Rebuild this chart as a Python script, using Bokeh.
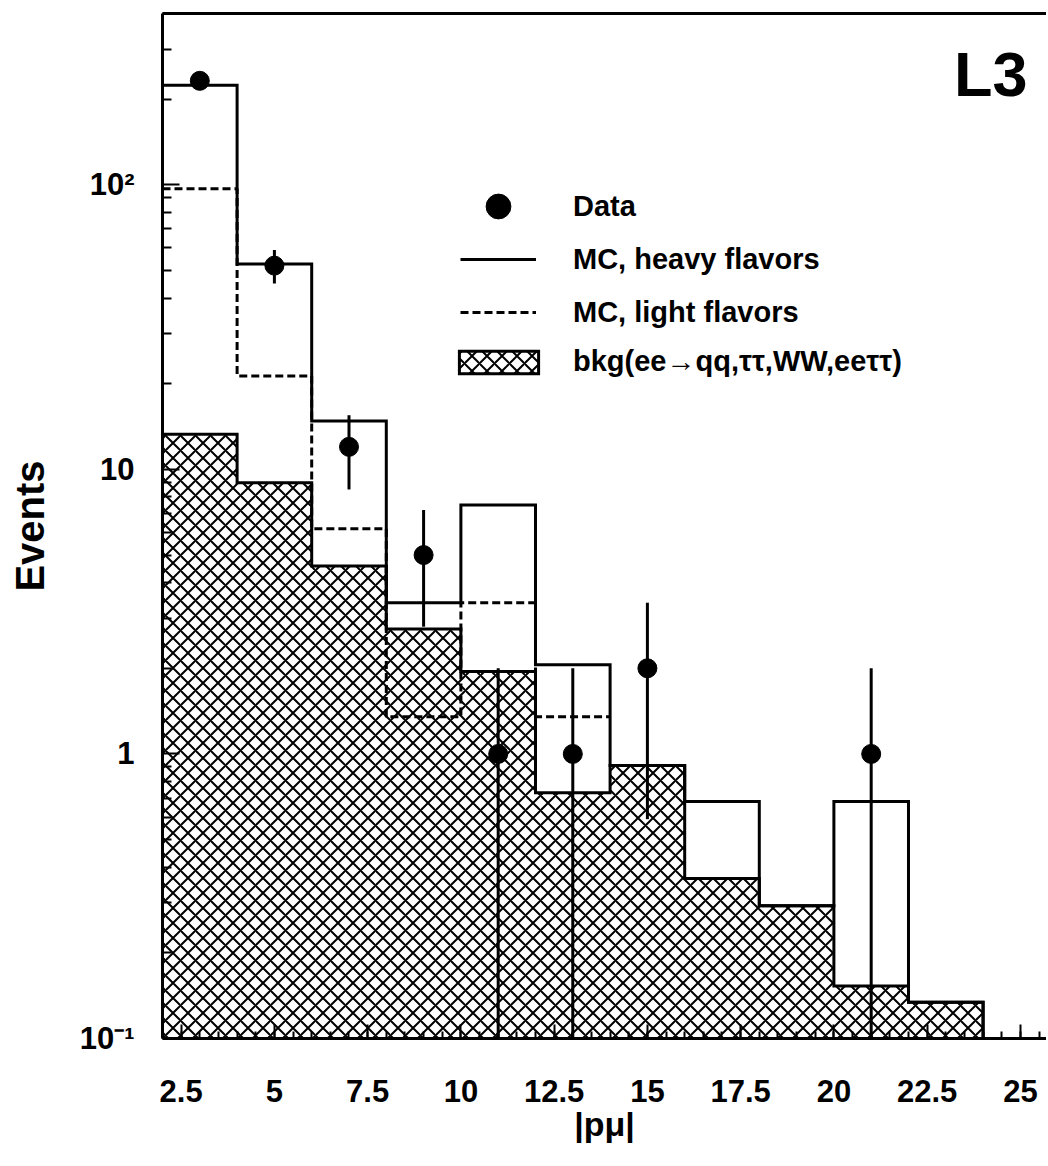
import numpy as np
from bokeh.plotting import figure
from bokeh.models import (Range1d, FixedTicker, LinearAxis, Legend, LegendItem, Label,
                          ColumnDataSource)
from bokeh.embed import file_html
from bokeh.resources import INLINE

# ---------------- data ----------------
bin_edges = [2, 4, 6, 8, 10, 12, 14, 16, 18, 20, 22, 24]
mc_heavy = [224, 52.7, 14.8, 3.4, 7.5, 2.06, 0.91, 0.68, 0.293, 0.68, 0.134]
mc_light = [96.9, 21.3, 6.18, 1.35, 3.4, 1.35]
bkg = [13.3, 8.97, 4.58, 2.75, 1.95, 0.73, 0.91, 0.365, 0.293, 0.153, 0.134]

data_x = [3, 5, 7, 9, 11, 13, 15, 21]
data_y = [232, 52, 12, 5, 1, 1, 2, 1]
data_lo = [217, 45, 8.5, 2.8, 0, 0, 0.59, 0]
data_hi = [247, 59, 15.5, 7.2, 2, 2, 3.4, 2]

x_ticks = [2.5, 5, 7.5, 10, 12.5, 15, 17.5, 20, 22.5, 25]
x_tick_labels = ["2.5", "5", "7.5", "10", "12.5", "15", "17.5", "20", "22.5", "25"]
y_ticks = [0.1, 1, 10, 100]
y_tick_labels = ["10\u207b\u00b9", "1", "10", "10\u00b2"]

legend_labels = ["Data", "MC, heavy flavors", "MC, light flavors",
                 "bkg(ee\u2192qq,\u03c4\u03c4,WW,ee\u03c4\u03c4)"]

Y_MIN, Y_MAX = 0.1, 400
X_MIN, X_MAX = 2, 25.70
FONT = "Liberation Sans"


def step_xy(edges, vals, close=False):
    xs, ys = [], []
    if close:
        xs.append(edges[0]); ys.append(Y_MIN)
    for i, v in enumerate(vals):
        xs += [edges[i], edges[i + 1]]
        ys += [v, v]
    if close:
        xs.append(edges[len(vals)]); ys.append(Y_MIN)
    return xs, ys


p = figure(width=1046, height=1164,
           x_range=Range1d(X_MIN, X_MAX), y_range=Range1d(Y_MIN, Y_MAX),
           y_axis_type="log", output_backend="svg", toolbar_location=None,
           min_border_left=162, min_border_right=0, min_border_top=13,
           min_border_bottom=126)
p.outline_line_color = None
p.grid.visible = False
p.background_fill_color = "white"
p.border_fill_color = "white"

# background histogram (hatched)
bx, by = step_xy(bin_edges, bkg, close=True)
r_bkg = p.patch(bx, by, fill_color="white", hatch_pattern="diagonal_cross",
                hatch_color="black", hatch_scale=15, hatch_weight=2,
                line_color="black", line_width=3, line_join="miter")

# MC heavy flavours (solid)
hx, hy = step_xy(bin_edges, mc_heavy, close=True)
r_heavy = p.line(hx, hy, line_color="black", line_width=3, line_join="miter")

# MC light flavours (dashed)
lx, ly = step_xy(bin_edges[:len(mc_light) + 1], mc_light)
r_light = p.line(lx, ly, line_color="black", line_width=3, line_dash="8 4")

# data with error bars
lo = [v if v > 0 else Y_MIN for v in data_lo]
src = ColumnDataSource(dict(x=data_x, y=data_y, lo=lo, hi=data_hi))
p.segment(x0="x", y0="lo", x1="x", y1="hi", source=src, line_color="black", line_width=3)
r_data = p.scatter("x", "y", source=src, size=19, color="black")

# ---------------- axes ----------------
xax = p.xaxis[0]
xax.ticker = FixedTicker(ticks=x_ticks, minor_ticks=list(np.arange(2, 26, 0.5)))
xax.major_label_overrides = dict(zip(x_ticks, x_tick_labels))
xax.major_tick_in = 14
xax.minor_tick_in = 7
xax.major_label_standoff = 41
xax.axis_label = "|p\u03bc|"
xax.axis_label_text_font = FONT
xax.axis_label_text_font_style = "bold"
xax.axis_label_text_font_size = "34px"
xax.axis_label_text_color = "black"
xax.axis_label_standoff = 0

yax = p.yaxis[0]
y_minor = [k * 10.0 ** e for e in (-1, 0, 1, 2) for k in range(2, 10) if k * 10.0 ** e <= Y_MAX]
yax.ticker = FixedTicker(ticks=y_ticks, minor_ticks=y_minor)
yax.major_label_overrides = dict(zip(y_ticks, y_tick_labels))
yax.major_tick_in = 17
yax.minor_tick_in = 9
yax.major_label_standoff = 28
yax.axis_label = "Events"
yax.axis_label_text_font = FONT
yax.axis_label_text_font_style = "bold"
yax.axis_label_text_font_size = "40px"
yax.axis_label_text_color = "black"
yax.axis_label_standoff = 25

for ax in (xax, yax):
    ax.major_label_text_font = FONT
    ax.major_label_text_font_style = "bold"
    ax.major_label_text_font_size = "31px"
    ax.major_label_text_color = "black"
    ax.axis_line_width = 3
    ax.axis_line_color = "black"
    ax.major_tick_line_width = 2
    ax.minor_tick_line_width = 2
    ax.major_tick_out = 0
    ax.minor_tick_out = 0

top = LinearAxis(ticker=FixedTicker(ticks=[]), axis_line_width=3,
                 major_tick_in=0, major_tick_out=0, minor_tick_in=0, minor_tick_out=0,
                 major_label_standoff=0)
p.add_layout(top, "above")

# ---------------- legend (one block per entry) ----------------
def add_legend(label, renderer, x, y, gw, gh, standoff):
    leg = Legend(items=[LegendItem(label=label, renderers=[renderer])],
                 location=(x, y), glyph_width=gw, glyph_height=gh, label_height=gh,
                 label_standoff=standoff, padding=0, margin=0, spacing=0,
                 border_line_color=None, background_fill_alpha=0,
                 label_text_font=FONT, label_text_font_style="bold",
                 label_text_font_size="29px", label_text_color="black")
    p.add_layout(leg)

add_legend(legend_labels[0], r_data, 298, 801, 76, 62, 37)
add_legend(legend_labels[1], r_heavy, 298, 762, 76, 34, 37)
add_legend(legend_labels[2], r_light, 298, 709, 76, 34, 37)
add_legend(legend_labels[3], r_bkg, 287, 660, 99, 28, 25)

# ---------------- experiment tag ----------------
p.add_layout(Label(x=25.19, y=245, text="L3", text_align="right", text_baseline="middle",
                   text_font=FONT, text_font_style="bold", text_font_size="63px",
                   text_color="black"))

open("out.html", "w").write(file_html(p, INLINE))
